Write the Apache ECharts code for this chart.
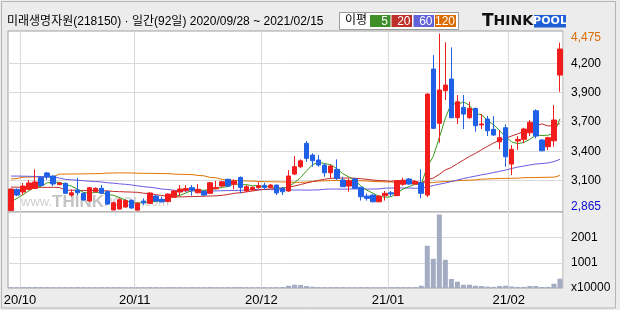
<!DOCTYPE html>
<html>
<head>
<meta charset="utf-8">
<script src="https://cdn.jsdelivr.net/npm/echarts@6/dist/echarts.min.js"></script>
<style>
html,body{margin:0;padding:0;background:#ececec;}
#c{width:620px;height:310px;}
</style>
</head>
<body>
<div id="c"></div>
<script>
const dates = [
'2020/09/28','2020/09/29',
'2020/10/05','2020/10/06','2020/10/07','2020/10/08','2020/10/12','2020/10/13','2020/10/14','2020/10/15','2020/10/16',
'2020/10/19','2020/10/20','2020/10/21','2020/10/22','2020/10/23','2020/10/26','2020/10/27','2020/10/28','2020/10/29','2020/10/30',
'2020/11/02','2020/11/03','2020/11/04','2020/11/05','2020/11/06','2020/11/09','2020/11/10','2020/11/11','2020/11/12','2020/11/13',
'2020/11/16','2020/11/17','2020/11/18','2020/11/19','2020/11/20','2020/11/23','2020/11/24','2020/11/25','2020/11/26','2020/11/27','2020/11/30',
'2020/12/01','2020/12/02','2020/12/03','2020/12/04','2020/12/07','2020/12/08','2020/12/09','2020/12/10','2020/12/11',
'2020/12/14','2020/12/15','2020/12/16','2020/12/17','2020/12/18','2020/12/21','2020/12/22','2020/12/23','2020/12/24',
'2020/12/28','2020/12/29','2020/12/30',
'2021/01/04','2021/01/05','2021/01/06','2021/01/07','2021/01/08','2021/01/11','2021/01/12','2021/01/13','2021/01/14','2021/01/15',
'2021/01/18','2021/01/19','2021/01/20','2021/01/21','2021/01/22','2021/01/25','2021/01/26','2021/01/27','2021/01/28','2021/01/29',
'2021/02/01','2021/02/02','2021/02/03','2021/02/04','2021/02/05','2021/02/08','2021/02/09','2021/02/10','2021/02/15'
];
const opens = [2865,3057,3033,3057,3066,3166,3206,3178,3100,3112,3005,3051,3021,2951,3035,3066,3037,2869,2878,2896,
2957,2868,2950,2930,2996,2966,2946,2985,3033,3048,3072,3026,3039,3021,3063,3087,3148,3103,3166,3042,
3051,3072,3094,3075,3096,3066,3042,3196,3263,3476,3369,3324,3278,3208,3239,3142,3087,3151,3075,2996,
3005,2944,3000,3026,3000,3103,3151,3105,3117,3005,4152,3658,3955,4061,3709,3803,3709,3794,3643,3697,
3603,3490,3618,3287,3497,3512,3572,3772,3506,3445,3499,4097];
const closes = [3060,3005,3087,3115,3124,3092,3169,3106,3115,3021,3026,3026,2960,3072,3066,3021,2923,2935,2963,2955,
2887,2930,2935,3024,2951,2944,3014,3042,3060,3065,3051,3057,3005,3117,3075,3126,3087,3133,3075,3081,
3075,3090,3075,3096,3025,3035,3178,3263,3317,3339,3317,3278,3208,3269,3157,3081,3135,3066,2990,2975,
2944,2996,3021,3015,3135,3135,3105,3126,3021,3924,3612,3961,4006,3709,3854,3742,3794,3636,3652,3590,
3551,3527,3354,3421,3512,3606,3667,3542,3408,3527,3688,4334];
const lows = [2865,2995,3005,3050,3060,3085,3145,3087,3095,3015,2990,3005,2955,2945,3030,3015,2915,2868,2875,2890,
2880,2866,2915,2925,2945,2935,2940,2980,3000,3035,3000,3020,3000,3015,3060,3082,3080,3057,3021,3035,
3045,3065,3051,3070,3005,3005,3035,3190,3250,3308,3263,3263,3172,3157,3142,3078,3035,3060,2955,2955,
2940,2940,2955,2990,2995,3090,3100,3100,2975,2987,3605,3481,3870,3705,3651,3606,3700,3581,3606,3542,
3545,3421,3263,3187,3415,3476,3542,3521,3405,3415,3445,3945];
const highs = [3065,3065,3115,3142,3239,3175,3215,3185,3125,3120,3057,3160,3030,3080,3075,3096,3045,2945,2975,2965,
2965,2940,2975,3030,3005,2990,3020,3050,3096,3096,3096,3105,3045,3125,3135,3135,3155,3148,3175,3096,
3085,3126,3117,3105,3100,3080,3233,3360,3330,3497,3385,3369,3294,3280,3330,3172,3157,3163,3080,3021,
3010,3005,3042,3042,3140,3163,3160,3142,3239,3930,4279,4475,4395,4349,3915,3915,3854,3800,3742,3724,
3724,3597,3649,3460,3542,3618,3688,3785,3515,3535,3824,4391];
const volumes = [35,30,38,40,42,36,35,33,30,34,32,36,31,35,30,33,36,34,32,30,
31,35,30,34,32,30,33,35,31,30,34,32,30,36,31,33,34,35,37,31,
30,32,33,30,34,36,90,130,120,80,50,38,35,34,36,33,30,32,35,34,
33,31,30,32,40,36,34,33,90,1680,1160,2920,1120,360,250,130,130,90,80,55,
45,80,90,60,45,45,80,80,40,45,170,370];
const ma5 = [2945,2975,3010,3045,3078,3085,3117,3121,3121,3101,3087,3059,3030,3021,3030,3029,3008,3003,2982,2959,
2933,2934,2934,2946,2945,2957,2974,2995,3002,3025,3046,3055,3048,3059,3061,3076,3082,3108,3099,3100,
3090,3091,3079,3083,3072,3064,3082,3119,3164,3226,3283,3303,3292,3282,3246,3199,3170,3142,3086,3049,
3022,2994,2985,2990,3022,3060,3082,3103,3104,3262,3358,3529,3705,3842,3828,3854,3821,3747,3736,3683,
3645,3591,3535,3489,3473,3484,3512,3550,3547,3550,3566,3700];
const ma20 = [3078,3077,3077,3076,3076,3075,3075,3076,3074,3050,3049,3048,3047,3046,3046,3045,3043,3038,3036,3034,
3032,3030,3022,3018,3009,3001,2994,2990,2988,2990,2991,2993,2995,2997,2998,3003,3011,3021,3027,3033,
3042,3050,3057,3061,3065,3069,3077,3088,3101,3115,3128,3139,3150,3157,3161,3159,3161,3158,3154,3148,
3142,3137,3135,3130,3136,3141,3137,3130,3116,3145,3160,3194,3234,3256,3291,3324,3357,3385,3418,3449,
3479,3506,3522,3543,3562,3585,3613,3634,3653,3634,3637,3656];
const ma60 = [3178,3178,3177,3176,3174,3174,3172,3172,3160,3148,3144,3140,3136,3131,3128,3124,3117,3113,3107,3103,
3097,3089,3081,3076,3069,3060,3056,3049,3043,3042,3042,3041,3042,3042,3043,3045,3046,3047,3049,3051,
3055,3056,3056,3055,3054,3052,3051,3051,3051,3050,3051,3052,3058,3060,3060,3059,3060,3061,3060,3059,
3060,3061,3068,3069,3070,3069,3069,3067,3069,3078,3092,3104,3115,3128,3142,3156,3167,3178,3189,3199,
3210,3221,3233,3247,3260,3269,3279,3288,3292,3297,3310,3330];
const ma120 = [3151,3156,3168,3169,3170,3170,3171,3172,3195,3196,3197,3197,3198,3199,3200,3201,3205,3206,3207,3207,
3206,3204,3203,3203,3202,3201,3200,3196,3194,3193,3191,3184,3180,3166,3162,3148,3140,3138,3136,3134,
3132,3129,3127,3126,3125,3124,3122,3121,3121,3123,3130,3133,3135,3137,3138,3138,3137,3136,3135,3133,
3129,3127,3125,3124,3122,3121,3120,3119,3118,3118,3119,3125,3128,3131,3136,3139,3141,3143,3150,3152,
3154,3156,3157,3158,3159,3163,3164,3165,3166,3167,3168,3183];
const priceTickValues = [2865, 3139, 3403, 3676, 3940, 4204, 4475];
const priceTickLabels = ['2,865', '3,100', '3,400', '3,700', '3,900', '4,200', '4,475'];
const priceGridValues = [3139, 3403, 3676, 3940, 4204];
const volTickValues = [0, 1001, 2001];
const volTickLabels = ['x10000', '1001', '2001'];
const volGridValues = [1001, 2001];

const monthStarts = [];
dates.forEach((d, i) => { if (i === 0 || d.slice(0, 7) !== dates[i - 1].slice(0, 7)) { if (i > 0) monthStarts.push(i); } });
const monthSet = new Set(monthStarts);
const candleData = dates.map((d, i) => [opens[i], closes[i], lows[i], highs[i]]);

const FONT = "'Liberation Sans', 'Noto Sans CJK KR', sans-serif";
const chart = echarts.init(document.getElementById('c'), null, {renderer: 'canvas'});
const gridLine = {show: true, lineStyle: {color: '#d9d9d9', width: 1}};
const maLine = (name, data, color) => ({
  name, type: 'line', data, xAxisIndex: 0, yAxisIndex: 0, symbol: 'none', smooth: false,
  lineStyle: {color, width: 1}, z: 3, silent: true
});

chart.setOption({
  animation: false,
  backgroundColor: '#ececec',
  grid: [
    {left: 8, top: 31, width: 555, height: 181, show: true, backgroundColor: '#fff', borderColor: '#a0a0a0', borderWidth: 1},
    {left: 8, top: 212, width: 555, height: 76, show: true, backgroundColor: '#fff', borderColor: '#a0a0a0', borderWidth: 1}
  ],
  xAxis: [
    {type: 'category', gridIndex: 0, data: dates, boundaryGap: true,
     axisLine: {show: false}, axisTick: {show: false}, axisLabel: {show: false},
     splitLine: {show: true, interval: (i) => monthSet.has(i), lineStyle: {color: '#d9d9d9', width: 1}}},
    {type: 'category', gridIndex: 1, data: dates, boundaryGap: true,
     axisLine: {show: false}, axisTick: {show: false}, axisLabel: {show: false},
     splitLine: {show: true, interval: (i) => monthSet.has(i), lineStyle: {color: '#d9d9d9', width: 1}}},
    {type: 'value', gridIndex: 1, min: 0, max: dates.length, position: 'bottom',
     axisLine: {show: false}, axisTick: {show: false}, splitLine: {show: false},
     axisLabel: {customValues: monthStarts, margin: 6, color: '#000', fontSize: 13, fontFamily: FONT,
       formatter: (v) => { const d = dates[Math.round(v)]; return d.slice(2, 4) + '/' + d.slice(5, 7); }}}
  ],
  yAxis: [
    {type: 'value', gridIndex: 0, position: 'right', min: 2851, max: 4498,
     axisLine: {show: false}, axisTick: {show: false, customValues: priceGridValues},
     splitLine: gridLine,
     axisLabel: {customValues: priceTickValues, margin: 8, color: '#000', fontSize: 12, fontFamily: FONT,
       formatter: (v) => {
         const k = priceTickValues.indexOf(v);
         const t = priceTickLabels[k];
         if (k === priceTickValues.length - 1) return '{hi|' + t + '}';
         if (k === 0) return '{lo|' + t + '}';
         return t;
       },
       rich: {
         hi: {color: '#dc6c00', fontSize: 12, fontFamily: FONT, padding: [8, 0, 0, 0]},
         lo: {color: '#0a0ad0', fontSize: 12, fontFamily: FONT, padding: [0, 0, 8, 0]}
       }}},
    {type: 'value', gridIndex: 1, position: 'right', min: 0, max: 3020,
     axisLine: {show: false}, axisTick: {show: false, customValues: volGridValues},
     splitLine: gridLine,
     axisLabel: {customValues: volTickValues, margin: 8, color: '#000', fontSize: 12, fontFamily: FONT,
       formatter: (v) => volTickLabels[volTickValues.indexOf(v)]}}
  ],
  series: [
    {name: 'price', type: 'candlestick', xAxisIndex: 0, yAxisIndex: 0, data: candleData, barWidth: 5, z: 4,
     itemStyle: {color: '#f21c1c', color0: '#2060e6', borderColor: '#f21c1c', borderColor0: '#2060e6', borderWidth: 1}},
    maLine('MA120', ma120, '#e07400'),
    maLine('MA60', ma60, '#6a5ae0'),
    maLine('MA20', ma20, '#c42a2a'),
    maLine('MA5', ma5, '#3a9a1a'),
    {name: 'volume', type: 'bar', xAxisIndex: 1, yAxisIndex: 1, data: volumes, barWidth: 5,
     itemStyle: {color: '#a4acc4'}, silent: true}
  ],
  graphic: [
    {type: 'rect', shape: {x: 1.5, y: 1.5, width: 614, height: 306.5}, style: {fill: 'none', stroke: '#b4b4b4', lineWidth: 1}, z: 0},
    {type: 'text', x: 7, y: 22, style: {text: '미래생명자원(218150) · 일간(92일) 2020/09/28 ~ 2021/02/15', fill: '#000', fontSize: 12, fontFamily: FONT, verticalAlign: 'middle'}},
    {type: 'rect', shape: {x: 339.5, y: 12.5, width: 119, height: 17}, style: {fill: '#fff', stroke: '#9c9c9c', lineWidth: 1}},
    {type: 'text', x: 345, y: 21, style: {text: '이평', fill: '#000', fontSize: 12, fontFamily: FONT, verticalAlign: 'middle'}},
    {type: 'rect', shape: {x: 370, y: 15, width: 20.5, height: 12}, style: {fill: '#3f8f28'}},
    {type: 'text', x: 388, y: 21.5, style: {text: '5', fill: '#fff', fontSize: 12, fontFamily: FONT, align: 'right', verticalAlign: 'middle'}},
    {type: 'rect', shape: {x: 391.5, y: 15, width: 20.5, height: 12}, style: {fill: '#c0302a'}},
    {type: 'text', x: 410.5, y: 21.5, style: {text: '20', fill: '#fff', fontSize: 12, fontFamily: FONT, align: 'right', verticalAlign: 'middle'}},
    {type: 'rect', shape: {x: 413.5, y: 15, width: 20.5, height: 12}, style: {fill: '#6262da'}},
    {type: 'text', x: 432.5, y: 21.5, style: {text: '60', fill: '#fff', fontSize: 12, fontFamily: FONT, align: 'right', verticalAlign: 'middle'}},
    {type: 'rect', shape: {x: 435, y: 15, width: 21, height: 12}, style: {fill: '#da6c00'}},
    {type: 'text', x: 455, y: 21.5, style: {text: '120', fill: '#fff', fontSize: 12, fontFamily: FONT, align: 'right', verticalAlign: 'middle'}},
    {type: 'text', x: 482, y: 21.5, style: {text: '{t|T}{h|HINK}', verticalAlign: 'middle',
      rich: {t: {fontSize: 17, fontWeight: 'bold', fontFamily: "'DejaVu Sans', sans-serif", fill: '#111'},
             h: {fontSize: 14, fontWeight: 'bold', fontFamily: "'DejaVu Sans', sans-serif", fill: '#111'}}}},
    {type: 'rect', shape: {x: 534, y: 15, width: 32, height: 12.5}, style: {fill: '#1f5fd6'}},
    {type: 'text', x: 550, y: 21.5, style: {text: 'POOL', fill: '#fff', fontSize: 11, fontWeight: 'bold', fontFamily: "'DejaVu Sans', sans-serif", align: 'center', verticalAlign: 'middle'}},
    {type: 'text', x: 21, y: 202, z: 1, style: {text: '{a|www.}{b|THINK}{c|POOL}{a|.com}', verticalAlign: 'middle',
      rich: {a: {fontSize: 13, fontFamily: FONT, fill: '#cfcfcf'},
             b: {fontSize: 17, fontWeight: 'bold', fontFamily: FONT, fill: '#c4c4c4'},
             c: {fontSize: 13, fontWeight: 'bold', fontFamily: FONT, fill: '#d4d4d4'}}}}
  ]
});
</script>
</body>
</html>
